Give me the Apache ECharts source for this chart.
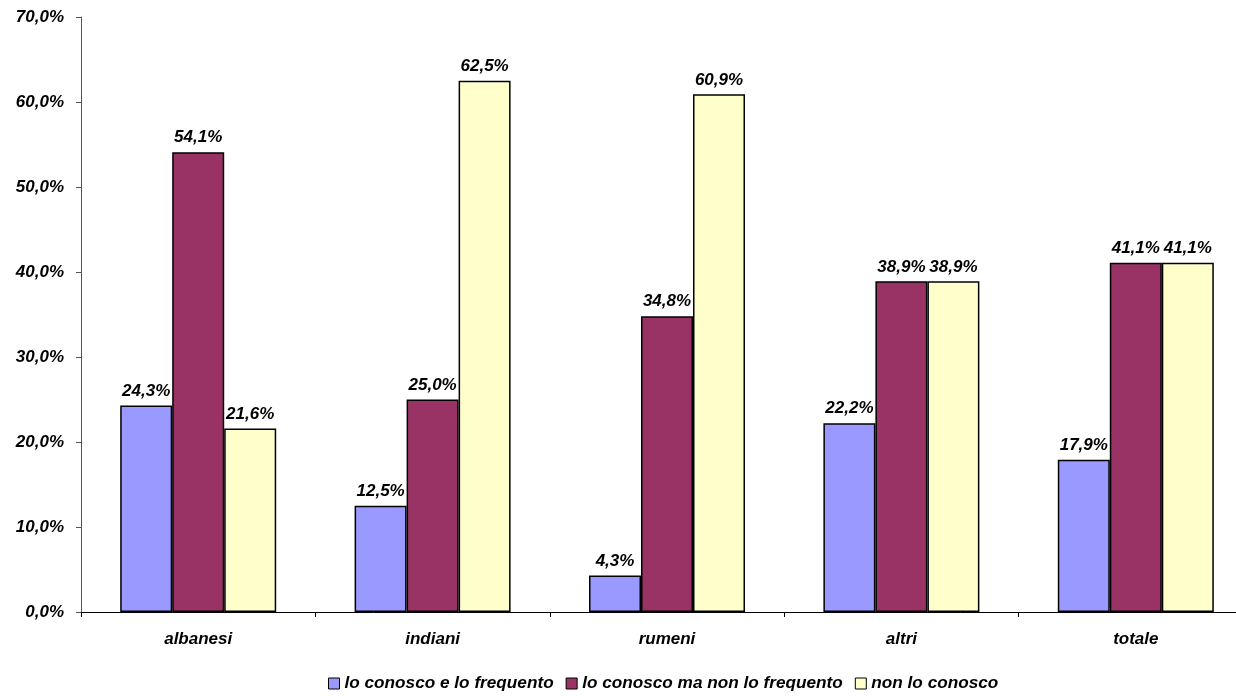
<!DOCTYPE html>
<html><head><meta charset="utf-8">
<script src="https://cdn.jsdelivr.net/npm/echarts@6/dist/echarts.min.js"></script>
<style>html,body{margin:0;padding:0;background:#fff;overflow:hidden}#c{width:1254px;height:696px}</style>
</head><body><div id="c"></div>
<script>
const categories = ['albanesi','indiani','rumeni','altri','totale'];
const seriesNames = ['lo conosco e lo frequento','lo conosco ma non lo frequento','non lo conosco'];
const conoscoFrequento = [24.3, 12.5, 4.3, 22.2, 17.9];
const conoscoNonFrequento = [54.1, 25.0, 34.8, 38.9, 41.1];
const nonConosco = [21.6, 62.5, 60.9, 38.9, 41.1];
const colors = ['#9999FF','#993366','#FFFFCC'];
const fmt = v => v.toFixed(1).replace('.', ',') + '%';
const font = {fontFamily:'Liberation Sans, Arial, sans-serif', fontWeight:'bold', fontStyle:'italic', color:'#000'};
const chart = echarts.init(document.getElementById('c'), null, {renderer:'canvas'});
const mk = (name, data, i) => ({
  name, type:'bar', data, barWidth:52, barGap:'0%',
  itemStyle:{color:colors[i], borderColor:'#000', borderWidth:1.5},
  label:{show:true, position:'top', distance:6, formatter:p=>fmt(p.value), fontSize:17, ...font}
});
chart.setOption({
  animation:false,
  grid:{left:81, top:17, right:1, height:595, containLabel:false},
  legend:{top:670, left:323, itemWidth:11, itemHeight:11, itemGap:12, icon:'rect',
    textStyle:{fontSize:17.2, ...font, padding:[0,0,0,0]},
    itemStyle:{borderColor:'#000', borderWidth:1}},
  xAxis:{type:'category', data:categories,
    axisLine:{lineStyle:{color:'#000', width:1}},
    axisTick:{show:true, length:5, lineStyle:{color:'#000'}},
    axisLabel:{fontSize:17, margin:19, ...font}},
  yAxis:{type:'value', min:0, max:70, interval:10,
    splitLine:{show:false},
    axisLine:{show:true, lineStyle:{color:'#555', width:1}},
    axisTick:{show:true, length:5, lineStyle:{color:'#555'}},
    axisLabel:{fontSize:17, margin:17, formatter:v=>fmt(v), ...font}},
  series:[mk(seriesNames[0], conoscoFrequento, 0), mk(seriesNames[1], conoscoNonFrequento, 1), mk(seriesNames[2], nonConosco, 2)]
});
</script></body></html>
